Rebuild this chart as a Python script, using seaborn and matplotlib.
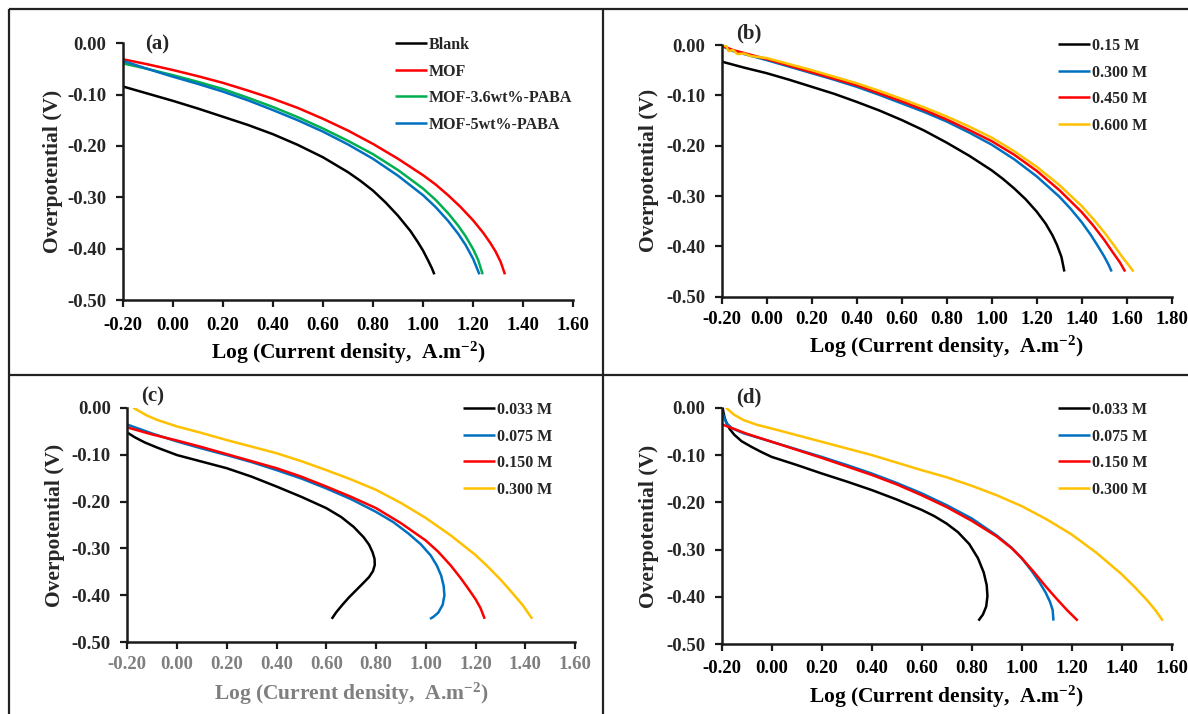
import numpy as np
import pandas as pd
import matplotlib
matplotlib.use("Agg")
import matplotlib.pyplot as plt
from matplotlib.lines import Line2D
from matplotlib.ticker import FuncFormatter, MultipleLocator
import seaborn as sns

# ---------------- (a) coating comparison ----------------
a_names = ["Blank", "MOF", "MOF-3.6wt%-PABA", "MOF-5wt%-PABA"]
a_colors = ["#000000", "#FF0000", "#00B050", "#0070C0"]
a_blank_x = [-0.20, -0.10, 0.00, 0.10, 0.20, 0.30, 0.40, 0.50, 0.60, 0.70, 0.75, 0.80, 0.85, 0.90, 0.95, 0.98, 1.00, 1.02, 1.035, 1.045]
a_blank_y = [-0.084, -0.098, -0.112, -0.127, -0.143, -0.159, -0.177, -0.198, -0.222, -0.251, -0.268, -0.287, -0.310, -0.336, -0.366, -0.388, -0.404, -0.423, -0.438, -0.450]
a_mof_x = [-0.20, -0.10, 0.00, 0.10, 0.20, 0.30, 0.40, 0.50, 0.60, 0.70, 0.80, 0.90, 1.00, 1.05, 1.10, 1.15, 1.20, 1.24, 1.27, 1.29, 1.31, 1.327]
a_mof_y = [-0.031, -0.041, -0.052, -0.064, -0.077, -0.092, -0.108, -0.126, -0.147, -0.170, -0.196, -0.225, -0.257, -0.275, -0.296, -0.319, -0.345, -0.369, -0.390, -0.406, -0.426, -0.450]
a_p36_x = [-0.20, -0.10, 0.00, 0.10, 0.20, 0.30, 0.40, 0.50, 0.60, 0.70, 0.80, 0.90, 1.00, 1.05, 1.10, 1.14, 1.17, 1.20, 1.22, 1.238]
a_p36_y = [-0.039, -0.050, -0.062, -0.075, -0.089, -0.106, -0.124, -0.144, -0.166, -0.190, -0.216, -0.247, -0.283, -0.305, -0.331, -0.355, -0.376, -0.401, -0.422, -0.450]
a_p5_x = [-0.20, -0.10, 0.00, 0.10, 0.20, 0.30, 0.40, 0.50, 0.60, 0.70, 0.80, 0.90, 1.00, 1.05, 1.10, 1.14, 1.17, 1.20, 1.225]
a_p5_y = [-0.034, -0.050, -0.065, -0.079, -0.094, -0.111, -0.130, -0.150, -0.172, -0.197, -0.225, -0.258, -0.296, -0.319, -0.346, -0.371, -0.393, -0.420, -0.450]

# ---------------- (b) concentration series ----------------
b_names = ["0.15 M", "0.300 M", "0.450 M", "0.600 M"]
b_colors = ["#000000", "#0070C0", "#FF0000", "#FFC000"]
b_015_x = [-0.20, -0.10, 0.00, 0.10, 0.20, 0.30, 0.40, 0.50, 0.60, 0.70, 0.80, 0.90, 1.00, 1.05, 1.10, 1.15, 1.20, 1.24, 1.27, 1.29, 1.31, 1.323]
b_015_y = [-0.033, -0.045, -0.056, -0.069, -0.083, -0.097, -0.113, -0.130, -0.149, -0.170, -0.194, -0.220, -0.249, -0.266, -0.285, -0.306, -0.331, -0.355, -0.378, -0.397, -0.421, -0.450]
b_030_x = [-0.20, -0.15, -0.10, 0.00, 0.10, 0.20, 0.30, 0.40, 0.50, 0.60, 0.70, 0.80, 0.90, 1.00, 1.10, 1.20, 1.30, 1.35, 1.40, 1.44, 1.47, 1.50, 1.52, 1.533]
b_030_y = [-0.002, -0.012, -0.018, -0.030, -0.043, -0.056, -0.069, -0.083, -0.099, -0.116, -0.133, -0.152, -0.174, -0.198, -0.227, -0.261, -0.301, -0.325, -0.352, -0.377, -0.398, -0.420, -0.437, -0.450]
b_045_x = [-0.19, -0.15, -0.10, 0.00, 0.10, 0.20, 0.30, 0.40, 0.50, 0.60, 0.70, 0.80, 0.90, 1.00, 1.10, 1.20, 1.30, 1.40, 1.45, 1.50, 1.54, 1.57, 1.593]
b_045_y = [-0.003, -0.010, -0.016, -0.028, -0.041, -0.054, -0.067, -0.080, -0.096, -0.112, -0.129, -0.148, -0.169, -0.191, -0.218, -0.250, -0.288, -0.332, -0.358, -0.387, -0.413, -0.432, -0.450]
b_060_x = [-0.20, -0.18, -0.17, -0.15, -0.13, -0.10, -0.07, 0.00, 0.10, 0.20, 0.30, 0.40, 0.50, 0.60, 0.70, 0.80, 0.90, 1.00, 1.10, 1.20, 1.30, 1.40, 1.45, 1.50, 1.55, 1.58, 1.61, 1.630]
b_060_y = [0.000, -0.002, -0.012, -0.010, -0.018, -0.017, -0.022, -0.026, -0.038, -0.050, -0.063, -0.076, -0.091, -0.107, -0.124, -0.142, -0.162, -0.184, -0.211, -0.242, -0.278, -0.320, -0.345, -0.372, -0.402, -0.421, -0.438, -0.450]

# ---------------- (c) concentration series ----------------
c_names = ["0.033 M", "0.075 M", "0.150 M", "0.300 M"]
c_colors = ["#000000", "#0070C0", "#FF0000", "#FFC000"]
c_033_x = [-0.200, -0.170, -0.130, -0.080, 0.000, 0.100, 0.200, 0.300, 0.400, 0.500, 0.600, 0.660, 0.710, 0.750, 0.772, 0.786, 0.794, 0.795, 0.788, 0.772, 0.750, 0.720, 0.690, 0.665, 0.640, 0.622]
c_033_y = [-0.053, -0.063, -0.074, -0.085, -0.101, -0.115, -0.129, -0.147, -0.168, -0.190, -0.214, -0.233, -0.254, -0.276, -0.292, -0.308, -0.322, -0.335, -0.348, -0.361, -0.373, -0.389, -0.405, -0.420, -0.436, -0.450]
c_075_x = [-0.200, -0.100, 0.000, 0.100, 0.200, 0.300, 0.400, 0.500, 0.600, 0.700, 0.800, 0.870, 0.930, 0.980, 1.020, 1.045, 1.062, 1.072, 1.075, 1.068, 1.050, 1.030, 1.017]
c_075_y = [-0.036, -0.055, -0.072, -0.087, -0.101, -0.116, -0.133, -0.151, -0.172, -0.195, -0.222, -0.244, -0.268, -0.291, -0.315, -0.337, -0.358, -0.380, -0.400, -0.420, -0.437, -0.446, -0.450]
c_150_x = [-0.200, -0.100, 0.000, 0.100, 0.200, 0.300, 0.400, 0.500, 0.600, 0.700, 0.800, 0.900, 1.000, 1.050, 1.100, 1.140, 1.170, 1.200, 1.220, 1.237]
c_150_y = [-0.042, -0.057, -0.070, -0.084, -0.099, -0.114, -0.129, -0.147, -0.168, -0.190, -0.214, -0.246, -0.283, -0.307, -0.336, -0.363, -0.385, -0.408, -0.427, -0.450]
c_300_x = [-0.176, -0.150, -0.120, -0.080, 0.000, 0.100, 0.200, 0.300, 0.400, 0.500, 0.600, 0.700, 0.800, 0.900, 1.000, 1.100, 1.200, 1.250, 1.300, 1.350, 1.390, 1.428]
c_300_y = [0.000, -0.008, -0.017, -0.026, -0.040, -0.054, -0.069, -0.083, -0.097, -0.114, -0.133, -0.153, -0.175, -0.203, -0.235, -0.272, -0.314, -0.339, -0.366, -0.396, -0.421, -0.450]

# ---------------- (d) concentration series ----------------
d_names = ["0.033 M", "0.075 M", "0.150 M", "0.300 M"]
d_colors = ["#000000", "#0070C0", "#FF0000", "#FFC000"]
d_033_x = [-0.196, -0.193, -0.188, -0.180, -0.168, -0.150, -0.120, -0.080, -0.040, 0.000, 0.100, 0.200, 0.300, 0.400, 0.500, 0.600, 0.650, 0.700, 0.745, 0.790, 0.825, 0.848, 0.860, 0.863, 0.858, 0.845, 0.827]
d_033_y = [0.000, -0.010, -0.022, -0.033, -0.045, -0.057, -0.071, -0.083, -0.094, -0.104, -0.121, -0.139, -0.156, -0.174, -0.194, -0.216, -0.229, -0.245, -0.263, -0.288, -0.318, -0.348, -0.375, -0.398, -0.420, -0.437, -0.450]
d_075_x = [-0.200, -0.195, -0.188, -0.180, -0.160, -0.113, 0.000, 0.100, 0.200, 0.300, 0.400, 0.500, 0.600, 0.700, 0.800, 0.900, 0.960, 1.000, 1.040, 1.070, 1.095, 1.113, 1.124, 1.127]
d_075_y = [-0.005, -0.014, -0.024, -0.033, -0.043, -0.054, -0.072, -0.088, -0.104, -0.121, -0.139, -0.159, -0.181, -0.206, -0.234, -0.270, -0.296, -0.318, -0.345, -0.368, -0.390, -0.410, -0.428, -0.450]
d_150_x = [-0.200, -0.150, -0.100, 0.000, 0.100, 0.200, 0.300, 0.400, 0.500, 0.600, 0.700, 0.800, 0.900, 0.960, 1.000, 1.050, 1.100, 1.140, 1.180, 1.224]
d_150_y = [-0.035, -0.045, -0.055, -0.072, -0.089, -0.106, -0.124, -0.142, -0.162, -0.185, -0.210, -0.239, -0.272, -0.297, -0.318, -0.348, -0.380, -0.404, -0.427, -0.450]
d_300_x = [-0.183, -0.150, -0.113, -0.060, 0.000, 0.100, 0.200, 0.300, 0.400, 0.500, 0.600, 0.700, 0.800, 0.900, 1.000, 1.100, 1.200, 1.300, 1.400, 1.450, 1.500, 1.535, 1.564]
d_300_y = [0.000, -0.015, -0.026, -0.036, -0.044, -0.058, -0.072, -0.086, -0.100, -0.116, -0.132, -0.147, -0.165, -0.185, -0.208, -0.236, -0.268, -0.307, -0.352, -0.378, -0.406, -0.428, -0.450]

X_LABEL = "Log (Current density,  A.m$^{-2}$)"
Y_LABEL = "Overpotential (V)"

sns.set_theme(style="white")
plt.rcParams["font.family"] = ["Liberation Serif", "DejaVu Serif"]
plt.rcParams["font.weight"] = "bold"
plt.rcParams["axes.labelweight"] = "bold"
plt.rcParams["axes.unicode_minus"] = False
plt.rcParams["mathtext.fontset"] = "custom"
plt.rcParams["mathtext.rm"] = "Liberation Serif:bold"
plt.rcParams["mathtext.bf"] = "Liberation Serif:bold"
plt.rcParams["mathtext.it"] = "Liberation Serif:bold:italic"
plt.rcParams["mathtext.default"] = "rm"
plt.rcParams["lines.solid_joinstyle"] = "round"
plt.rcParams["lines.solid_capstyle"] = "butt"

W, H = 1188, 714
fig = plt.figure(figsize=(W / 100, H / 100), dpi=100)
fig.patch.set_facecolor("white")


def px_axes(left, right, top, bottom):
    return fig.add_axes([left / W, 1 - bottom / H, (right - left) / W, (bottom - top) / H])


def fmt2(v, _):
    return "0.00" if abs(v) < 1e-9 else f"{v:.2f}"


def draw_panel(ax, names, colors, xs, ys, xmax, tag, tag_xy, leg_xy,
               xlabel_y, ylabel_x, xtick_color="black", xpad=6.0):
    frames = []
    for n, x, y in zip(names, xs, ys):
        frames.append(pd.DataFrame({"logi": x, "eta": y, "series": n}))
    df = pd.concat(frames, ignore_index=True)
    sns.lineplot(data=df, x="logi", y="eta", hue="series", hue_order=names,
                 palette=colors, sort=False, estimator=None, lw=1.8, ax=ax)

    ax.set_xlim(-0.2, xmax)
    ax.set_ylim(-0.5, 0.0)
    ax.xaxis.set_major_locator(MultipleLocator(0.2))
    ax.yaxis.set_major_locator(MultipleLocator(0.1))
    ax.xaxis.set_major_formatter(FuncFormatter(fmt2))
    ax.yaxis.set_major_formatter(FuncFormatter(fmt2))
    ax.set_facecolor("none")
    for s in ("top", "right"):
        ax.spines[s].set_visible(False)
    for s in ("left", "bottom"):
        ax.spines[s].set_linewidth(1.8)
        ax.spines[s].set_color("#1a1a1a")
    ax.tick_params(axis="both", which="major", direction="out", length=5,
                   width=1.6, color="#1a1a1a", labelsize=13.5)
    ax.tick_params(axis="x", pad=xpad, labelcolor=xtick_color, bottom=True)
    ax.tick_params(axis="y", pad=7.0, left=True)
    for lab in ax.get_xticklabels() + ax.get_yticklabels():
        lab.set_fontweight("bold")

    ax.set_xlabel(X_LABEL, fontsize=15.5, fontweight="bold", color=xtick_color)
    ax.set_ylabel(Y_LABEL, fontsize=15.5, fontweight="bold")
    ax.xaxis.set_label_coords(0.5, xlabel_y)
    ax.xaxis.label.set_va("center")
    ax.yaxis.set_label_coords(ylabel_x, 0.5)
    ax.yaxis.label.set_va("center")

    fig.text(tag_xy[0] / W, 1 - tag_xy[1] / H, tag, fontsize=15, fontweight="bold",
             ha="center", va="center")

    handles, labels = ax.get_legend_handles_labels()
    ax.legend(handles, labels, loc="upper left",
              bbox_to_anchor=(leg_xy[0] / W, 1 - leg_xy[1] / H),
              bbox_transform=fig.transFigure, frameon=False, borderpad=0,
              borderaxespad=0, handlelength=2.0, handletextpad=0.1,
              labelspacing=0.66, prop={"size": 11.5, "weight": "bold"})


ax_a = px_axes(122.7, 573.3, 43.3, 300.0)
draw_panel(ax_a, a_names, a_colors,
           [a_blank_x, a_mof_x, a_p36_x, a_p5_x],
           [a_blank_y, a_mof_y, a_p36_y, a_p5_y],
           1.6, "(a)", (157, 44), (395, 37), -0.2065, -0.1547, xpad=7.5)

ax_b = px_axes(721.7, 1171.7, 45.0, 296.7)
draw_panel(ax_b, b_names, b_colors,
           [b_015_x, b_030_x, b_045_x, b_060_x],
           [b_015_y, b_030_y, b_045_y, b_060_y],
           1.8, "(b)", (749, 33), (1058, 38), -0.200, -0.1616, xpad=5.5)

ax_c = px_axes(127.3, 575.0, 407.7, 642.3)
draw_panel(ax_c, c_names, c_colors,
           [c_033_x, c_075_x, c_150_x, c_300_x],
           [c_033_y, c_075_y, c_150_y, c_300_y],
           1.6, "(c)", (153, 396), (463, 402), -0.220, -0.1615,
           xtick_color="#7f7f7f", xpad=5.0)

ax_d = px_axes(721.7, 1171.7, 407.7, 644.3)
draw_panel(ax_d, d_names, d_colors,
           [d_033_x, d_075_x, d_150_x, d_300_x],
           [d_033_y, d_075_y, d_150_y, d_300_y],
           1.6, "(d)", (749, 397), (1058, 402), -0.223, -0.1616, xpad=6.5)

# panel frame: outer left/top border and the dividing cross
frame_kw = dict(transform=fig.transFigure, color="#222222", lw=1.6)
fig.add_artist(Line2D([9 / W, 9 / W], [0, 1 - 9 / H], **frame_kw))
fig.add_artist(Line2D([9 / W, 1], [1 - 9 / H, 1 - 9 / H], **frame_kw))
fig.add_artist(Line2D([603 / W, 603 / W], [0, 1 - 9 / H], **frame_kw))
fig.add_artist(Line2D([9 / W, 1], [1 - 375 / H, 1 - 375 / H], **frame_kw))

fig.savefig("out.png", dpi=100, facecolor="white")
